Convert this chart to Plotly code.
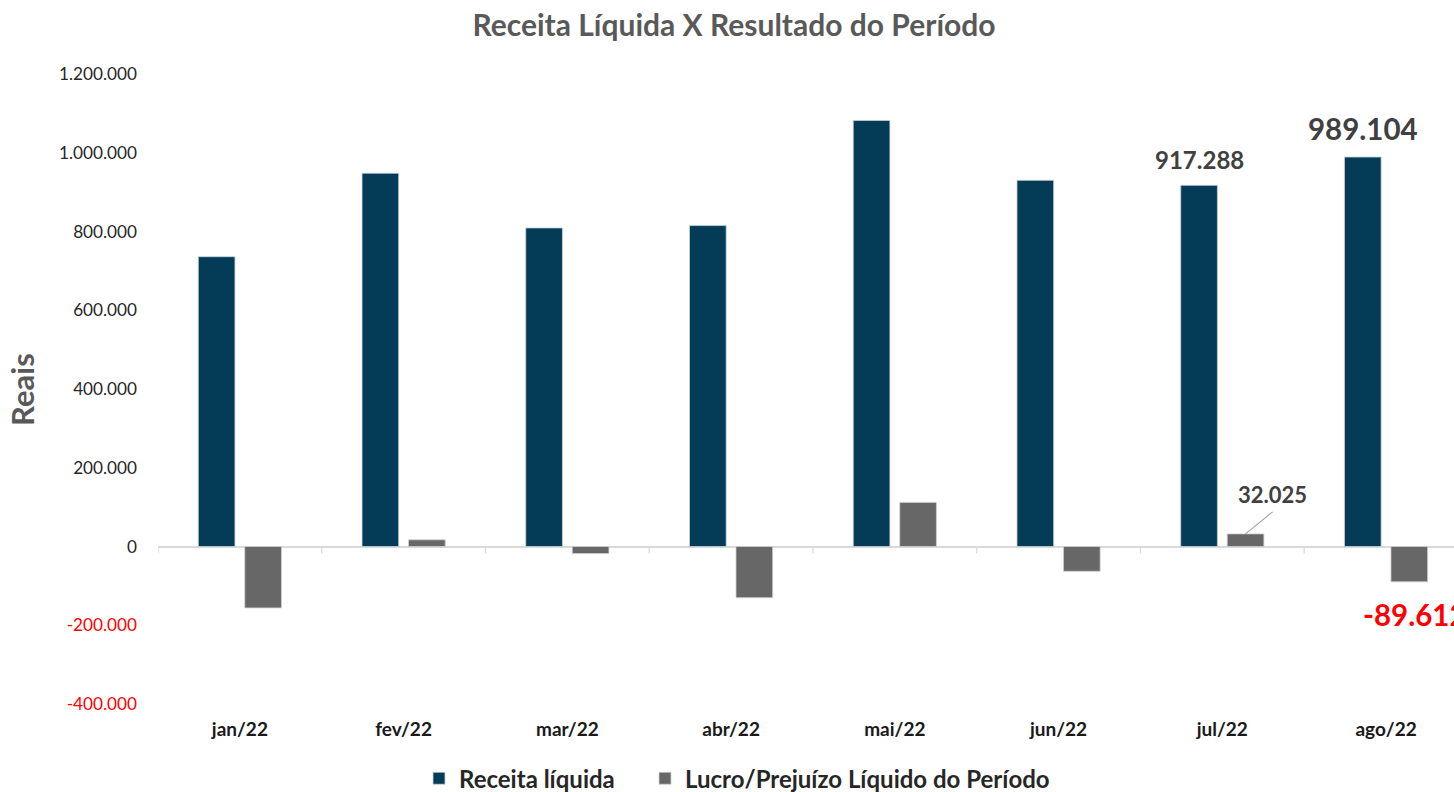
import plotly.graph_objects as go

# ---------------- data ----------------
categorias = ["jan/22", "fev/22", "mar/22", "abr/22", "mai/22", "jun/22", "jul/22", "ago/22"]
receita_liquida = [736000, 948000, 809000, 815000, 1082000, 930000, 917288, 989104]
lucro_prejuizo = [-156000, 17000, -18000, -130000, 112000, -63000, 32025, -89612]
y_ticks = [-400000, -200000, 0, 200000, 400000, 600000, 800000, 1000000, 1200000]
# indices of points that carry a data label
rotulos_receita = [6, 7]
rotulos_lucro = [6, 7]

# ---------------- style ----------------
NAVY = "#043B57"
GRAY = "#676767"
FONT = "Lato"
BAR_W = 0.224
OFF_A = -0.254
OFF_B = 0.030


def fmt(v):
    return f"{v:,.0f}".replace(",", ".")


def tick_text(v):
    s = fmt(v)
    if v < 0:
        return f'<span style="color:#FF0000">{s}</span>'
    return s


fig = go.Figure()
fig.add_bar(
    x=categorias, y=receita_liquida, name="Receita líquida",
    marker=dict(color=NAVY, line=dict(color="#c9d3da", width=0.8)),
    width=BAR_W, offset=OFF_A, hoverinfo="y", legend="legend",
)
fig.add_bar(
    x=categorias, y=lucro_prejuizo, name="Lucro/Prejuízo Líquido do Período",
    marker=dict(color=GRAY, line=dict(color="#d0d0d0", width=0.8)),
    width=BAR_W, offset=OFF_B, hoverinfo="y", legend="legend2",
)

annotations = []
shapes = []
# receita labels (jul, ago)
size_r = {6: 24, 7: 29.5}
shift_r = {6: 26, 7: 29}
for i in rotulos_receita:
    annotations.append(dict(
        x=i + OFF_A + BAR_W / 2, y=receita_liquida[i], xref="x", yref="y",
        text=f"<b>{fmt(receita_liquida[i])}</b>", showarrow=False,
        yanchor="middle", xanchor="center", yshift=shift_r[i],
        font=dict(family=FONT, size=size_r[i], color="#404040"),
    ))
# lucro labels
for i in rotulos_lucro:
    v = lucro_prejuizo[i]
    xc = i + OFF_B + BAR_W / 2
    if v >= 0:
        # leader line from the bar top towards the label
        shapes.append(dict(
            type="line", xref="x", yref="y",
            xsizemode="pixel", xanchor=xc, x0=0, x1=27,
            ysizemode="pixel", yanchor=v, y0=0, y1=22,
            line=dict(color="#a6a6a6", width=1.2),
        ))
        annotations.append(dict(
            x=xc, y=v, xref="x", yref="y",
            text=f"<b>{fmt(v)}</b>", showarrow=False,
            xanchor="center", yanchor="middle", xshift=27, yshift=39,
            font=dict(family=FONT, size=22, color="#404040"),
        ))
    else:
        annotations.append(dict(
            x=xc, y=v, xref="x", yref="y",
            text=f"<b>{fmt(v)}</b>", showarrow=False,
            yanchor="middle", xanchor="center", yshift=-33, xshift=6,
            font=dict(family=FONT, size=29.5, color="#FF0000"),
        ))
# y axis title
annotations.append(dict(
    x=-0.105, y=0.5, xref="paper", yref="paper", text="<b>Reais</b>",
    textangle=-90, showarrow=False, xanchor="center", yanchor="middle",
    font=dict(family=FONT, size=31, color="#595959"),
))

# small tick marks on the zero line at category boundaries
for k in range(len(categorias)):
    shapes.append(dict(
        type="line", xref="x", yref="y", x0=k - 0.5, x1=k - 0.5,
        ysizemode="pixel", yanchor=0, y0=0, y1=-7,
        line=dict(color="#d9d9d9", width=1.2), layer="below",
    ))

legend_common = dict(
    orientation="h", y=-(779 - 704.3) / 630.4, yanchor="middle", xanchor="left",
    font=dict(family=FONT, size=24, color="#262626", weight="bold"),
    bgcolor="rgba(0,0,0,0)",
)

fig.update_layout(
    width=1454, height=792,
    margin=dict(l=158, r=0, t=74, b=88, autoexpand=False),
    plot_bgcolor="white", paper_bgcolor="white",
    font=dict(family=FONT, color="#262626"),
    title=dict(
        text="<b>Receita Líquida X Resultado do Período</b>",
        x=734 / 1454, xanchor="center", y=1 - 25 / 792, yanchor="middle",
        font=dict(family=FONT, size=30, color="#595959"),
    ),
    xaxis=dict(
        range=[-0.5, 7.415], showgrid=False, showline=False, zeroline=False,
        ticks="", ticklabelstandoff=12, automargin=False,
        tickfont=dict(family=FONT, size=19, color="#1a1a1a", weight="bold"),
    ),
    yaxis=dict(
        range=[-400000, 1200000], showgrid=False, showline=False,
        zeroline=True, zerolinecolor="#d9d9d9", zerolinewidth=1.5,
        tickvals=y_ticks, ticktext=[tick_text(v) for v in y_ticks],
        ticks="", ticklabelstandoff=20, automargin=False,
        tickfont=dict(family=FONT, size=17.2, color="#262626"),
    ),
    showlegend=True,
    legend=dict(x=(419 - 158) / 1296, **legend_common),
    legend2=dict(x=(645 - 158) / 1296, **legend_common),
    annotations=annotations,
    shapes=shapes,
    bargap=0.43,
)

fig.write_html(
    "out.html",
    config={"displayModeBar": False},
    post_script="document.body.style.margin='0';document.body.style.overflow='hidden';",
)
